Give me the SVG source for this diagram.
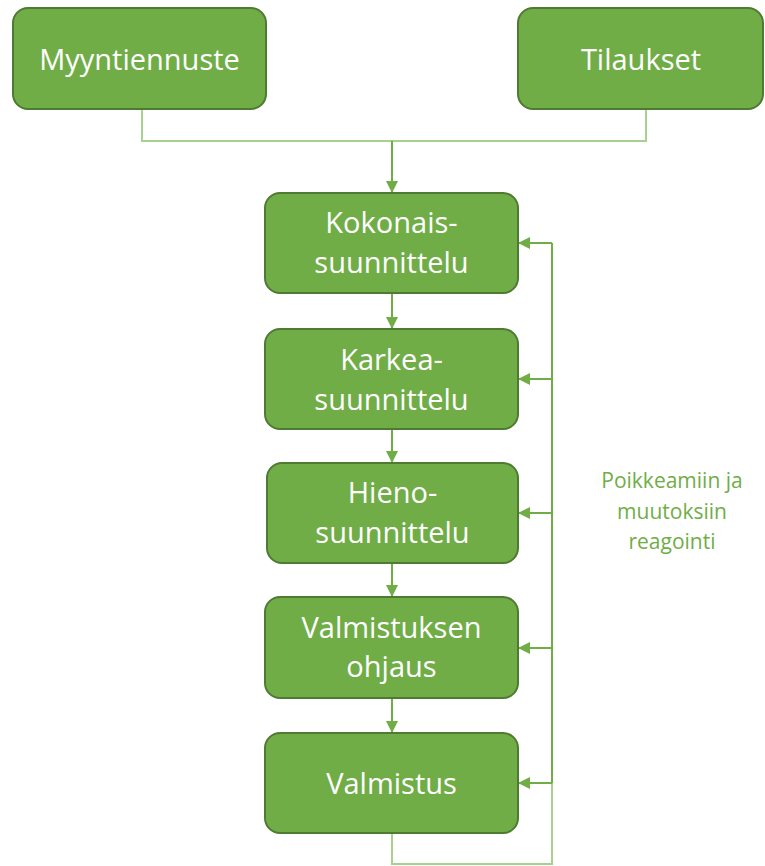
<svg xmlns="http://www.w3.org/2000/svg" width="765" height="866" viewBox="0 0 765 866">
<defs>
<style>
.box{fill:#70AD47;stroke:#4F7A32;stroke-width:2}
.t{font-family:"Open Sans","Liberation Sans",sans-serif;font-size:29px;fill:#FFFFFF;text-anchor:middle}
.lbl{font-family:"Open Sans","Liberation Sans",sans-serif;font-size:21px;fill:#70AD47;text-anchor:middle}
.ln{fill:none;stroke:#70AD47;stroke-width:2}
.lt{fill:none;stroke:#A9D18E;stroke-width:2}
</style>
<marker id="ah" viewBox="0 0 10 10" refX="10" refY="5" markerWidth="6" markerHeight="6" orient="auto" markerUnits="strokeWidth">
<path d="M0,0 L10,5 L0,10 Z" fill="#70AD47"/>
</marker>
</defs>
<rect width="765" height="866" fill="#FFFFFF"/>
<g id="connectors">
<path class="lt" d="M142,109 V141 H646 V109"/>
<path class="ln" d="M392,141 V193" marker-end="url(#ah)"/>
<path class="ln" d="M392,293 V329" marker-end="url(#ah)"/>
<path class="ln" d="M392,429 V463" marker-end="url(#ah)"/>
<path class="ln" d="M392,563 V597" marker-end="url(#ah)"/>
<path class="ln" d="M392,698 V733" marker-end="url(#ah)"/>
<path class="lt" d="M392,833 V864 H552 V783"/>
<path class="ln" d="M552,783 V243"/>
<path class="ln" d="M552,243 H518" marker-end="url(#ah)"/>
<path class="ln" d="M552,379 H518" marker-end="url(#ah)"/>
<path class="ln" d="M552,513 H518" marker-end="url(#ah)"/>
<path class="ln" d="M552,648 H518" marker-end="url(#ah)"/>
<path class="ln" d="M552,783 H518" marker-end="url(#ah)"/>
</g>
<g id="myyntiennuste">
<rect class="box" x="13" y="8" width="253" height="101" rx="15"/>
<text class="t" x="139.5" y="70">Myyntiennuste</text>
</g>
<g id="tilaukset">
<rect class="box" x="518" y="8" width="245" height="101" rx="15"/>
<text class="t" x="641" y="70">Tilaukset</text>
</g>
<g id="kokonais">
<rect class="box" x="265" y="193" width="253" height="100" rx="15"/>
<text class="t" x="391.5" y="233">Kokonais-</text>
<text class="t" x="391.5" y="273">suunnittelu</text>
</g>
<g id="karkea">
<rect class="box" x="265" y="329" width="253" height="100" rx="15"/>
<text class="t" x="391.5" y="370">Karkea-</text>
<text class="t" x="391.5" y="410">suunnittelu</text>
</g>
<g id="hieno">
<rect class="box" x="267" y="463" width="251" height="100" rx="15"/>
<text class="t" x="392.5" y="503">Hieno-</text>
<text class="t" x="392.5" y="543">suunnittelu</text>
</g>
<g id="valmistuksen">
<rect class="box" x="265" y="597" width="253" height="101" rx="15"/>
<text class="t" x="391.5" y="638">Valmistuksen</text>
<text class="t" x="391.5" y="677">ohjaus</text>
</g>
<g id="valmistus">
<rect class="box" x="265" y="733" width="253" height="100" rx="15"/>
<text class="t" x="391.5" y="794">Valmistus</text>
</g>
<g id="label">
<text class="lbl" x="672" y="488">Poikkeamiin ja</text>
<text class="lbl" x="672" y="519">muutoksiin</text>
<text class="lbl" x="672" y="549">reagointi</text>
</g>
</svg>
